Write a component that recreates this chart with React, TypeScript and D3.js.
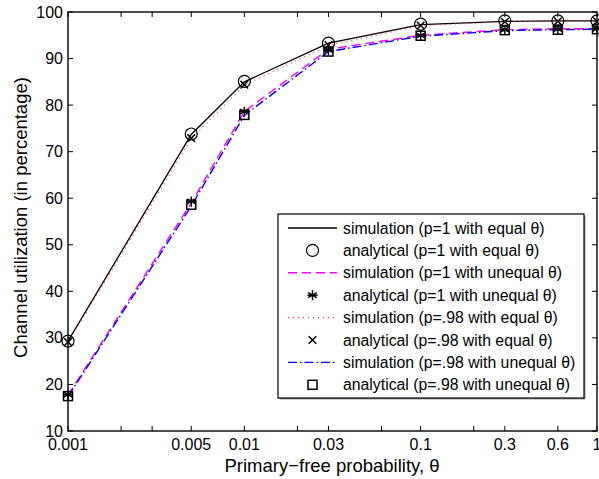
import { useEffect } from 'react';
import * as d3 from 'd3';

// x positions (primary-free probability θ)
const thetas = [0.001, 0.005, 0.01, 0.03, 0.1, 0.3, 0.6, 1];
const tickVals = [0.001, 0.002, 0.003, 0.005, 0.01, 0.02, 0.03, 0.06, 0.1, 0.2, 0.3, 0.6, 1];
const tickLabels = ['0.001', '', '', '0.005', '0.01', '', '0.03', '', '0.1', '', '0.3', '0.6', '1'];
const yTicks = [10, 20, 30, 40, 50, 60, 70, 80, 90, 100];

const simP1Equal = [29.3, 73.7, 85.0, 93.3, 97.3, 98.0, 98.1, 98.1];
const anaP1Equal = [29.3, 73.8, 85.1, 93.3, 97.4, 98.1, 98.1, 98.1];
const simP1Unequal = [17.7, 59.0, 78.6, 92.0, 95.0, 96.2, 96.4, 96.4];
const anaP1Unequal = [17.8, 59.3, 78.6, 91.8, 95.0, 96.2, 96.3, 96.4];
const simP98Equal = [29.0, 72.8, 84.3, 92.8, 97.1, 97.9, 98.0, 98.0];
const anaP98Equal = [29.1, 72.9, 84.4, 92.9, 97.1, 97.9, 98.0, 98.0];
const simP98Unequal = [17.4, 58.3, 77.8, 91.5, 94.8, 96.0, 96.2, 96.3];
const anaP98Unequal = [17.5, 58.6, 77.9, 91.5, 94.9, 96.1, 96.2, 96.3];

const legendLabels = [
  'simulation (p=1 with equal θ)',
  'analytical (p=1 with equal θ)',
  'simulation (p=1 with unequal θ)',
  'analytical (p=1 with unequal θ)',
  'simulation (p=.98 with equal θ)',
  'analytical (p=.98 with equal θ)',
  'simulation (p=.98 with unequal θ)',
  'analytical (p=.98 with unequal θ)',
];

const W = 599, H = 479;
const M = { left: 68, right: 2, top: 12, bottom: 48 };
const FONT = 'Liberation Sans, Arial, Helvetica, sans-serif';

type LineStyle = { stroke: string; dash?: string; width: number };
const lineStyles: LineStyle[] = [
  { stroke: '#000', width: 1.3 },
  { stroke: '#ff00ff', dash: '9,5', width: 1.4 },
  { stroke: '#ff3030', dash: '1,4', width: 1.2 },
  { stroke: '#0000ff', dash: '9,3,1.5,3', width: 1.4 },
];

function Marker({ kind, x, y }: { kind: string; x: number; y: number }) {
  const c = { fill: 'none', stroke: '#000', strokeWidth: 1.2 };
  if (kind === 'o') return <circle cx={x} cy={y} r={6} {...c} />;
  if (kind === 's') return <rect x={x - 4.5} y={y - 4.5} width={9} height={9} {...c} strokeWidth={1.5} />;
  if (kind === 'x') {
    const r = 3.8;
    return <path d={`M${x - r},${y - r}L${x + r},${y + r}M${x - r},${y + r}L${x + r},${y - r}`} {...c} strokeWidth={1.5} />;
  }
  // asterisk
  const r = 5;
  const d = [0, 60, 120].map(a => {
    const t = (a * Math.PI) / 180 + Math.PI / 2;
    const dx = r * Math.cos(t), dy = r * Math.sin(t);
    return `M${x - dx},${y - dy}L${x + dx},${y + dy}`;
  }).join('') + `M${x - r},${y}L${x + r},${y}`;
  return <path d={d} {...c} strokeWidth={1.4} />;
}

export default function App() {
  useEffect(() => { document.body.style.margin = '0'; }, []);

  const x = d3.scaleLog().domain([0.001, 1]).range([M.left, W - M.right]);
  const y = d3.scaleLinear().domain([10, 100]).range([H - M.bottom, M.top]);
  const line = d3.line<number>().x((_, i) => x(thetas[i])).y(d => y(d));

  const sims = [simP1Equal, simP1Unequal, simP98Equal, simP98Unequal];
  const anas: [number[], string][] = [
    [anaP1Equal, 'o'], [anaP1Unequal, '*'], [anaP98Equal, 'x'], [anaP98Unequal, 's'],
  ];

  const x0 = M.left, x1 = W - M.right, y0 = M.top, y1 = H - M.bottom;
  const lg = { x: 278, y: 214, w: 306, h: 184, row: 22.4 };

  return (
    <svg width={W} height={H} style={{ display: 'block', background: '#fff' }} fontFamily={FONT}>
      {/* data */}
      {sims.map((s, i) => (
        <path key={i} d={line(s) || ''} fill="none" stroke={lineStyles[i].stroke}
          strokeWidth={lineStyles[i].width} strokeDasharray={lineStyles[i].dash} />
      ))}
      {anas.map(([vals, k]) => vals.map((v, i) => (
        <Marker key={k + i} kind={k} x={x(thetas[i])} y={y(v)} />
      )))}

      {/* ticks */}
      {tickVals.map((t, i) => (
        <g key={'xt' + i}>
          <line x1={x(t)} x2={x(t)} y1={y1} y2={y1 - 5} stroke="#000" />
          <line x1={x(t)} x2={x(t)} y1={y0} y2={y0 + 5} stroke="#000" />
          {tickLabels[i] && (
            <text x={x(t)} y={y1 + 19} textAnchor="middle" fontSize={16}>{tickLabels[i]}</text>
          )}
        </g>
      ))}
      {yTicks.map(t => (
        <g key={'yt' + t}>
          <line x1={x0} x2={x0 + 5} y1={y(t)} y2={y(t)} stroke="#000" />
          <line x1={x1} x2={x1 - 5} y1={y(t)} y2={y(t)} stroke="#000" />
          <text x={x0 - 5} y={y(t) + 5.5} textAnchor="end" fontSize={16}>{t}</text>
        </g>
      ))}
      <rect x={x0} y={y0} width={x1 - x0} height={y1 - y0} fill="none" stroke="#000" strokeWidth={1.4} />

      {/* axis titles */}
      <text x={332} y={472} textAnchor="middle" fontSize={18.5}>Primary−free probability, θ</text>
      <text transform={`translate(27,${(y0 + y1) / 2 - 4}) rotate(-90)`} textAnchor="middle" fontSize={18.5}>
        Channel utilization (in percentage)
      </text>

      {/* legend */}
      <rect x={lg.x + 1.5} y={lg.y + 1.5} width={lg.w} height={lg.h} fill="#999" />
      <rect x={lg.x} y={lg.y} width={lg.w} height={lg.h} fill="#fff" stroke="#000" strokeWidth={1.2} />
      {legendLabels.map((lab, i) => {
        const ry = lg.y + 14 + i * lg.row;
        const sx0 = 288, sx1 = 337;
        return (
          <g key={lab}>
            {i % 2 === 0 ? (
              <line x1={sx0} x2={sx1} y1={ry} y2={ry} stroke={lineStyles[i / 2].stroke}
                strokeWidth={lineStyles[i / 2].width} strokeDasharray={lineStyles[i / 2].dash} />
            ) : (
              <Marker kind={anas[(i - 1) / 2][1]} x={(sx0 + sx1) / 2} y={ry} />
            )}
            <text x={343} y={ry + 5.5} fontSize={15.8}>{lab}</text>
          </g>
        );
      })}
    </svg>
  );
}
